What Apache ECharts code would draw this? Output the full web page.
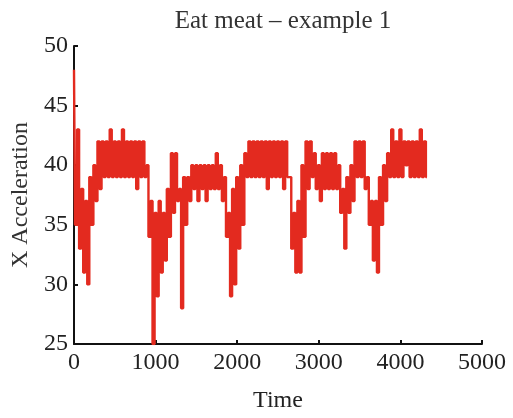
<!DOCTYPE html>
<html>
<head>
<meta charset="utf-8">
<script src="https://cdn.jsdelivr.net/npm/echarts@6/dist/echarts.min.js"></script>
<style>html,body{margin:0;padding:0;background:#fff}#c{width:513px;height:418px}</style>
</head>
<body>
<div id="c"></div>
<script>
// Bin start times (each bin spans 50 time units)
var binStart = [];
for (var b = 0; b <= 4300; b += 50) binStart.push(b);
// Upper envelope of X acceleration per bin
var highVals = [48,43,38,37,39,40,42,42,42,43,42,42,43,42,42,42,42,42,40,37,
  36,37,36,38,41,41,38,39,39,40,40,40,40,40,40,41,40,39,36,38,
  39,40,41,42,42,42,42,42,42,42,42,42,42,39,36,37,40,42,42,41,
  40,41,41,41,41,40,38,39,40,42,42,42,39,37,37,39,40,41,43,42,
  43,42,42,42,42,43,42];
// Lower envelope per bin
var lowVals = [35,33,31,30,35,37,38,39,39,39,39,39,39,39,39,38,39,39,34,25,
  29,31,32,34,36,37,28,35,37,38,37,38,37,38,38,38,37,34,29,30,
  33,35,39,39,39,39,39,38,39,39,39,38,39,33,31,31,34,38,39,38,
  37,38,38,38,38,36,33,36,37,39,39,38,35,32,31,35,37,39,39,39,
  39,40,39,39,39,39,39];
var xTicks = [0,1000,2000,3000,4000,5000];
var yTicks = [25,30,35,40,45,50];

var pts = [];
for (var i = 0; i < binStart.length; i++) {
  pts.push([binStart[i], highVals[i]]);
  pts.push([binStart[i] + 25, lowVals[i]]);
}

var font = '"Liberation Serif", "DejaVu Serif", serif';
var chart = echarts.init(document.getElementById('c'));
chart.setOption({
  animation: false,
  backgroundColor: '#fff',
  title: {
    text: 'Eat meat \u2013 example 1',
    left: 278, top: 4, textAlign: 'center',
    textStyle: {fontFamily: font, fontSize: 25, fontWeight: 'normal', color: '#333'}
  },
  grid: {left: 74, right: 31, top: 46, bottom: 72},
  xAxis: {
    type: 'value', min: xTicks[0], max: xTicks[xTicks.length - 1], interval: 1000,
    name: 'Time', nameLocation: 'middle', nameGap: 45,
    nameTextStyle: {fontFamily: font, fontSize: 24, color: '#222'},
    axisLine: {lineStyle: {color: '#111', width: 2}},
    axisTick: {inside: true, length: 4, lineStyle: {color: '#111', width: 2}},
    axisLabel: {fontFamily: font, fontSize: 24, color: '#222', margin: 7,
      formatter: function (v) { return String(v); }},
    splitLine: {show: false}
  },
  yAxis: {
    type: 'value', min: yTicks[0], max: yTicks[yTicks.length - 1], interval: 5,
    name: 'X Acceleration', nameLocation: 'middle', nameGap: 33,
    nameTextStyle: {fontFamily: font, fontSize: 24, color: '#333'},
    axisLine: {show: true, lineStyle: {color: '#111', width: 2}},
    axisTick: {show: true, inside: true, length: 4, lineStyle: {color: '#111', width: 2}},
    axisLabel: {fontFamily: font, fontSize: 24, color: '#222', margin: 6},
    splitLine: {show: false}
  },
  series: [{
    type: 'line', data: pts, symbol: 'none', step: 'middle',
    lineStyle: {color: '#e32a1f', width: 2.4}
  }]
});
</script>
</body>
</html>
